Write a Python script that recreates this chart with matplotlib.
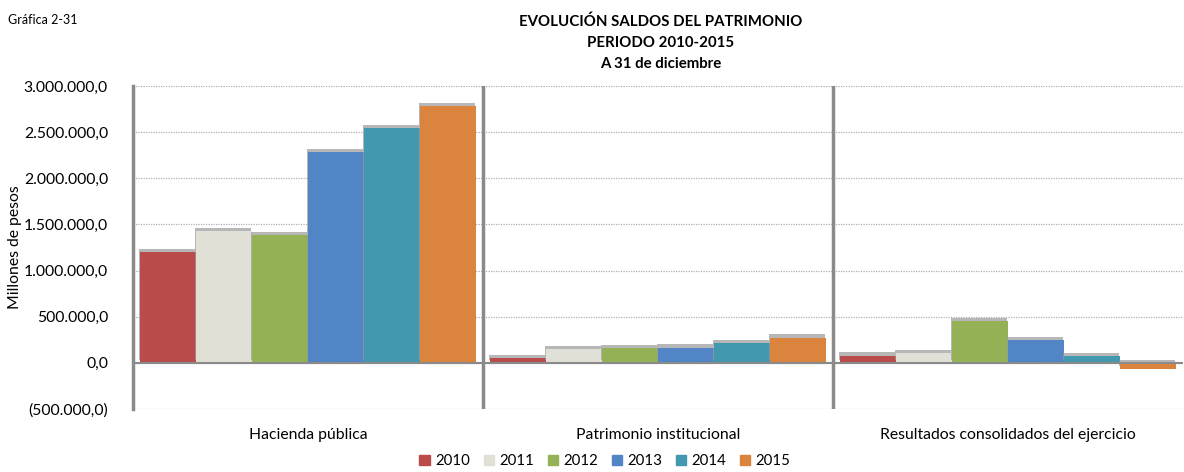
import numpy as np
import matplotlib
matplotlib.use('Agg')
import matplotlib.pyplot as plt
import matplotlib.patheffects as pe
import matplotlib.patches as mpatches
from matplotlib.ticker import FuncFormatter

plt.rcParams['font.family'] = ['Lato', 'DejaVu Sans']

# ── datos (millones de pesos) ─────────────────────────────
categorias = ['Hacienda pública', 'Patrimonio institucional',
              'Resultados consolidados del ejercicio']
anios = ['2010', '2011', '2012', '2013', '2014', '2015']
v2010 = [1196000, 54000, 76000]
v2011 = [1428000, 151000, 102000]
v2012 = [1385000, 156000, 455000]
v2013 = [2284000, 166000, 249000]
v2014 = [2543000, 216000, 72000]
v2015 = [2781000, 274000, -65000]
series = [v2010, v2011, v2012, v2013, v2014, v2015]
colores = ['#B94C4A', '#E1E0D6', '#94B255', '#5285C6', '#4198AF', '#DB843D']

fig = plt.figure(figsize=(11.84, 4.72), dpi=100)
ax = fig.add_axes([0.1123, 0.1335, 0.8870, 0.6843])

n = len(anios)
ancho = 0.96 / n
x = np.arange(len(categorias))
sombra = [pe.SimplePatchShadow(offset=(-0.6, 2.4), shadow_rgbFace='#999999', alpha=0.7),
          pe.Normal()]
for i, (vals, col) in enumerate(zip(series, colores)):
    pos = x - 0.48 + ancho * (i + 0.5)
    ax.bar(pos, vals, width=ancho, color=col, path_effects=sombra, zorder=3)

ax.set_xlim(-0.5, len(categorias) - 0.5)
ax.set_ylim(-500000, 3000000)
ax.set_yticks(np.arange(-500000, 3000001, 500000))

def fmt(v, _):
    s = f'{abs(v):,.1f}'.replace(',', 'X').replace('.', ',').replace('X', '.')
    return f'({s})' if v < 0 else s

ax.yaxis.set_major_formatter(FuncFormatter(fmt))
ax.set_xticks(x)
ax.set_xticklabels(categorias)
ax.tick_params(axis='both', length=0, labelsize=11.3, colors='#000000')
ax.tick_params(axis='y', pad=18)
ax.tick_params(axis='x', pad=14)

ax.grid(axis='y', linestyle=(0, (1, 1)), color='#b0b0b0', linewidth=0.9, zorder=0)
for s in ['top', 'right', 'bottom']:
    ax.spines[s].set_visible(False)
ax.spines['left'].set_color('#8a8a8a')
ax.spines['left'].set_linewidth(2.5)
ax.axhline(0, color='#8a8a8a', linewidth=1.5, zorder=4)
for b in [0.5, 1.5]:
    ax.axvline(b, color='#8a8a8a', linewidth=2.5, zorder=4)

ax.set_ylabel('Millones de pesos', fontsize=11.3)
ax.yaxis.set_label_coords(-0.106, 0.5)

titulo = ['EVOLUCIÓN SALDOS DEL PATRIMONIO', 'PERIODO 2010-2015', 'A 31 de diciembre']
for k, linea in enumerate(titulo):
    fig.text(0.558, 1 - (22 + 21 * k) / 472, linea, ha='center', va='center',
             fontsize=10.8, fontweight='bold')
fig.text(0.007, 0.97, 'Gráfica 2-31', ha='left', va='top', fontsize=9)

handles = [mpatches.Patch(color=c, label=a) for c, a in zip(colores, anios)]
fig.legend(handles=handles, loc='center', bbox_to_anchor=(0.511, 1 - 461 / 472), ncol=6,
           frameon=False, fontsize=10.8, handlelength=0.7, handleheight=0.7,
           handletextpad=0.35, columnspacing=0.9)

fig.savefig('out.png', dpi=100)
